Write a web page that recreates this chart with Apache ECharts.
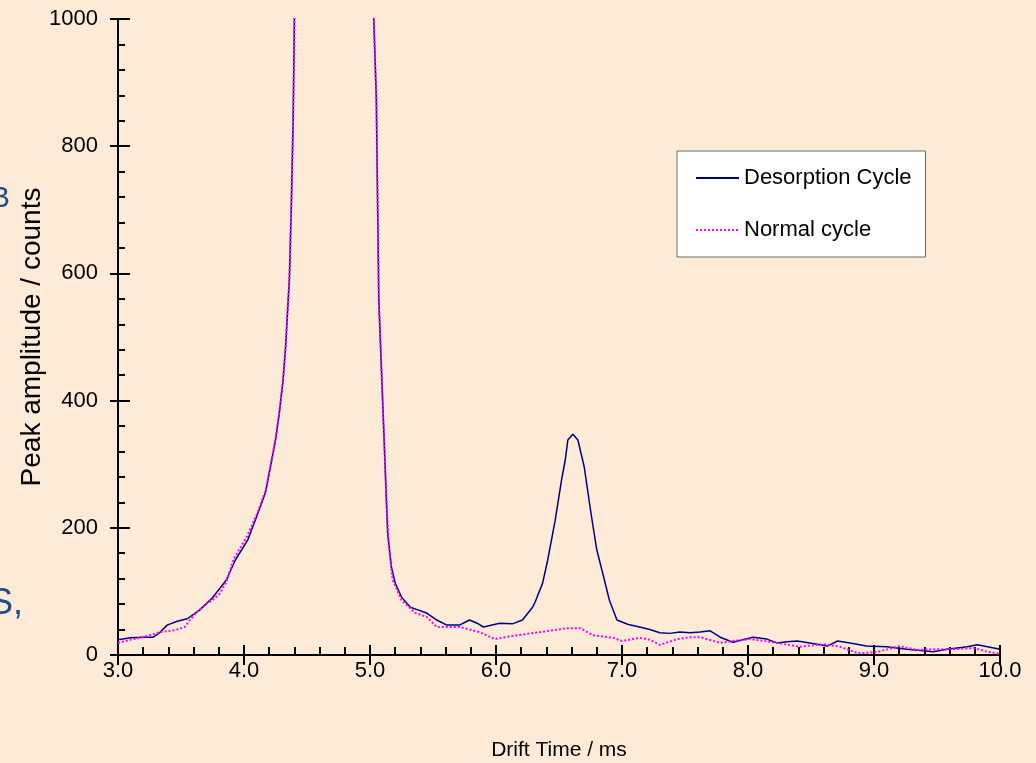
<!DOCTYPE html>
<html>
<head>
<meta charset="utf-8">
<script src="https://cdn.jsdelivr.net/npm/echarts@6/dist/echarts.min.js"></script>
<style>
  html, body { margin: 0; padding: 0; background: #FDEBD7; }
  #main { width: 1036px; height: 763px; }
</style>
</head>
<body>
<div id="main"></div>
<script>
// drift time (ms) and peak amplitude (counts)
var desorptionTime = [3.00, 3.10, 3.20, 3.28, 3.33, 3.39, 3.47, 3.55, 3.65, 3.75, 3.86, 3.93, 4.03, 4.11, 4.17, 4.21, 4.25, 4.28, 4.31, 4.33,
  4.345, 4.36, 4.375, 4.39, 4.40, 4.42, 4.50, 4.70, 4.90, 5.01, 5.03, 5.05, 5.06, 5.07, 5.09, 5.11, 5.13, 5.14, 5.17, 5.20,
  5.25, 5.32, 5.38, 5.45, 5.53, 5.61, 5.71, 5.79, 5.85, 5.90, 6.03, 6.13, 6.21, 6.29, 6.31, 6.37, 6.41, 6.47, 6.52, 6.55,
  6.57, 6.61, 6.65, 6.70, 6.75, 6.80, 6.84, 6.90, 6.96, 7.05, 7.14, 7.22, 7.30, 7.38, 7.46, 7.54, 7.62, 7.70, 7.78, 7.88,
  7.96, 8.04, 8.15, 8.23, 8.31, 8.39, 8.49, 8.63, 8.71, 8.81, 8.94, 9.10, 9.26, 9.37, 9.47, 9.58, 9.66, 9.74, 9.82, 9.90, 10.00];
var desorptionCounts = [24, 27, 28, 28, 35, 47, 53, 57, 71, 90, 118, 149, 181, 223, 255, 296, 338, 380, 432, 484,
  538, 590, 700, 841, 1000, 1300, 2500, 3000, 2500, 1300, 1000, 876, 715, 558, 453, 349, 244, 192, 138, 113,
  91, 75, 71, 66, 55, 47, 47, 55, 50, 44, 50, 49, 55, 75, 83, 113, 149, 212, 275, 307,
  338, 347, 338, 296, 228, 165, 134, 86, 55, 48, 44, 40, 35, 34, 36, 35, 36, 38, 28, 20,
  24, 28, 25, 19, 21, 22, 19, 14, 22, 19, 14, 13, 9, 7, 5, 9, 11, 13, 16, 13, 9];

var normalTime = [3.00, 3.10, 3.20, 3.33, 3.45, 3.53, 3.57, 3.63, 3.71, 3.75, 3.81, 3.86, 3.92, 4.02, 4.11, 4.17, 4.21, 4.25, 4.28, 4.31,
  4.33, 4.345, 4.36, 4.375, 4.39, 4.40, 4.42, 4.50, 4.70, 4.90, 5.01, 5.03, 5.05, 5.07, 5.09, 5.11, 5.13, 5.15, 5.18, 5.25,
  5.36, 5.45, 5.53, 5.61, 5.71, 5.87, 5.99, 6.13, 6.35, 6.56, 6.67, 6.77, 6.93, 7.00, 7.14, 7.22, 7.30, 7.44, 7.54, 7.62,
  7.78, 7.88, 8.02, 8.23, 8.41, 8.60, 8.73, 8.87, 8.94, 9.05, 9.20, 9.34, 9.47, 9.63, 9.79, 9.90, 10.00];
var normalCounts = [19, 24, 28, 36, 39, 44, 55, 68, 82, 86, 97, 115, 152, 185, 225, 258, 298, 340, 382, 434,
  486, 540, 592, 702, 843, 1000, 1300, 2500, 3000, 2500, 1300, 1000, 876, 558, 453, 349, 244, 170, 118, 86,
  66, 60, 44, 44, 44, 36, 25, 30, 36, 42, 42, 31, 27, 22, 27, 24, 16, 25, 28, 28,
  19, 22, 25, 19, 13, 17, 13, 3, 3, 6, 14, 8, 9, 9, 11, 5, 2];

var seriesNames = ['Desorption Cycle', 'Normal cycle'];

function pairs(xs, ys) {
  return xs.map(function (x, i) { return [x, ys[i]]; });
}

var myChart = echarts.init(document.getElementById('main'));
var font = 'Liberation Sans, Arial, sans-serif';

var option = {
  backgroundColor: '#FDEBD7',
  animation: false,
  textStyle: { fontFamily: font },
  grid: {
    left: 118, right: 36, top: 19, bottom: 108,
    containLabel: false, outerBoundsMode: 'none'
  },
  graphic: [
    { type: 'text', left: -10, top: 184, style: { text: 'B', fill: '#1F4E82', font: '30px ' + font } },
    { type: 'text', left: -11, top: 586, style: { text: 'S,', fill: '#1F4E82', font: '36px ' + font } }
  ],
  legend: {
    orient: 'vertical',
    left: 677,
    top: 151,
    padding: [16, 14, 16, 18],
    backgroundColor: '#ffffff',
    borderColor: '#6b6b6b',
    borderWidth: 1,
    itemWidth: 43,
    itemHeight: 14,
    itemGap: 30,
    itemStyle: { opacity: 0, borderWidth: 0 },
    data: seriesNames,
    textStyle: { fontSize: 22, color: '#000', fontFamily: font }
  },
  xAxis: [{
    type: 'value',
    min: 3, max: 10, interval: 1,
    name: 'Drift Time / ms',
    nameLocation: 'middle',
    nameGap: 85,
    nameMoveOverlap: false,
    nameTextStyle: { fontSize: 21, color: '#000', fontFamily: font },
    axisLine: { lineStyle: { color: '#000', width: 2 } },
    axisTick: { inside: true, length: 10, lineStyle: { color: '#000', width: 2 } },
    minorTick: { show: true, splitNumber: 5, length: 8, lineStyle: { color: '#000', width: 2 } },
    axisLabel: {
      fontSize: 22, color: '#000', margin: 5, fontFamily: font,
      formatter: function (v) { return v.toFixed(1); }
    },
    splitLine: { show: false }
  }, {
    type: 'value',
    position: 'bottom',
    min: 3, max: 10, interval: 1,
    axisLine: { show: false },
    axisTick: { inside: false, length: 10, lineStyle: { color: '#000', width: 2 } },
    axisLabel: { show: false },
    splitLine: { show: false }
  }],
  yAxis: [{
    type: 'value',
    min: 0, max: 1000, interval: 200,
    name: 'Peak amplitude / counts',
    nameLocation: 'middle',
    nameGap: 72,
    nameMoveOverlap: false,
    nameTextStyle: { fontSize: 28, color: '#000', fontFamily: font },
    axisLine: { lineStyle: { color: '#000', width: 2 } },
    axisTick: { inside: true, length: 12, lineStyle: { color: '#000', width: 2 } },
    minorTick: { show: true, splitNumber: 5, length: 7, lineStyle: { color: '#000', width: 2 } },
    axisLabel: {
      fontSize: 22, color: '#000', margin: 20, fontFamily: font,
      formatter: function (v) { return String(v); }
    },
    splitLine: { show: false }
  }, {
    type: 'value',
    position: 'left',
    min: 0, max: 1000, interval: 200,
    axisLine: { show: false },
    axisTick: { inside: false, length: 8, lineStyle: { color: '#000', width: 2 } },
    axisLabel: { show: false },
    splitLine: { show: false }
  }],
  series: [{
    name: seriesNames[0],
    type: 'line',
    symbol: 'none',
    clip: true,
    z: 2,
    lineStyle: { color: '#000080', width: 1.5 },
    itemStyle: { color: '#000080' },
    data: pairs(desorptionTime, desorptionCounts)
  }, {
    name: seriesNames[1],
    type: 'line',
    symbol: 'none',
    clip: true,
    z: 3,
    lineStyle: { color: '#FF00FF', width: 2, type: [2, 2] },
    itemStyle: { color: '#FF00FF' },
    data: pairs(normalTime, normalCounts)
  }]
};

myChart.setOption(option);
</script>
</body>
</html>
